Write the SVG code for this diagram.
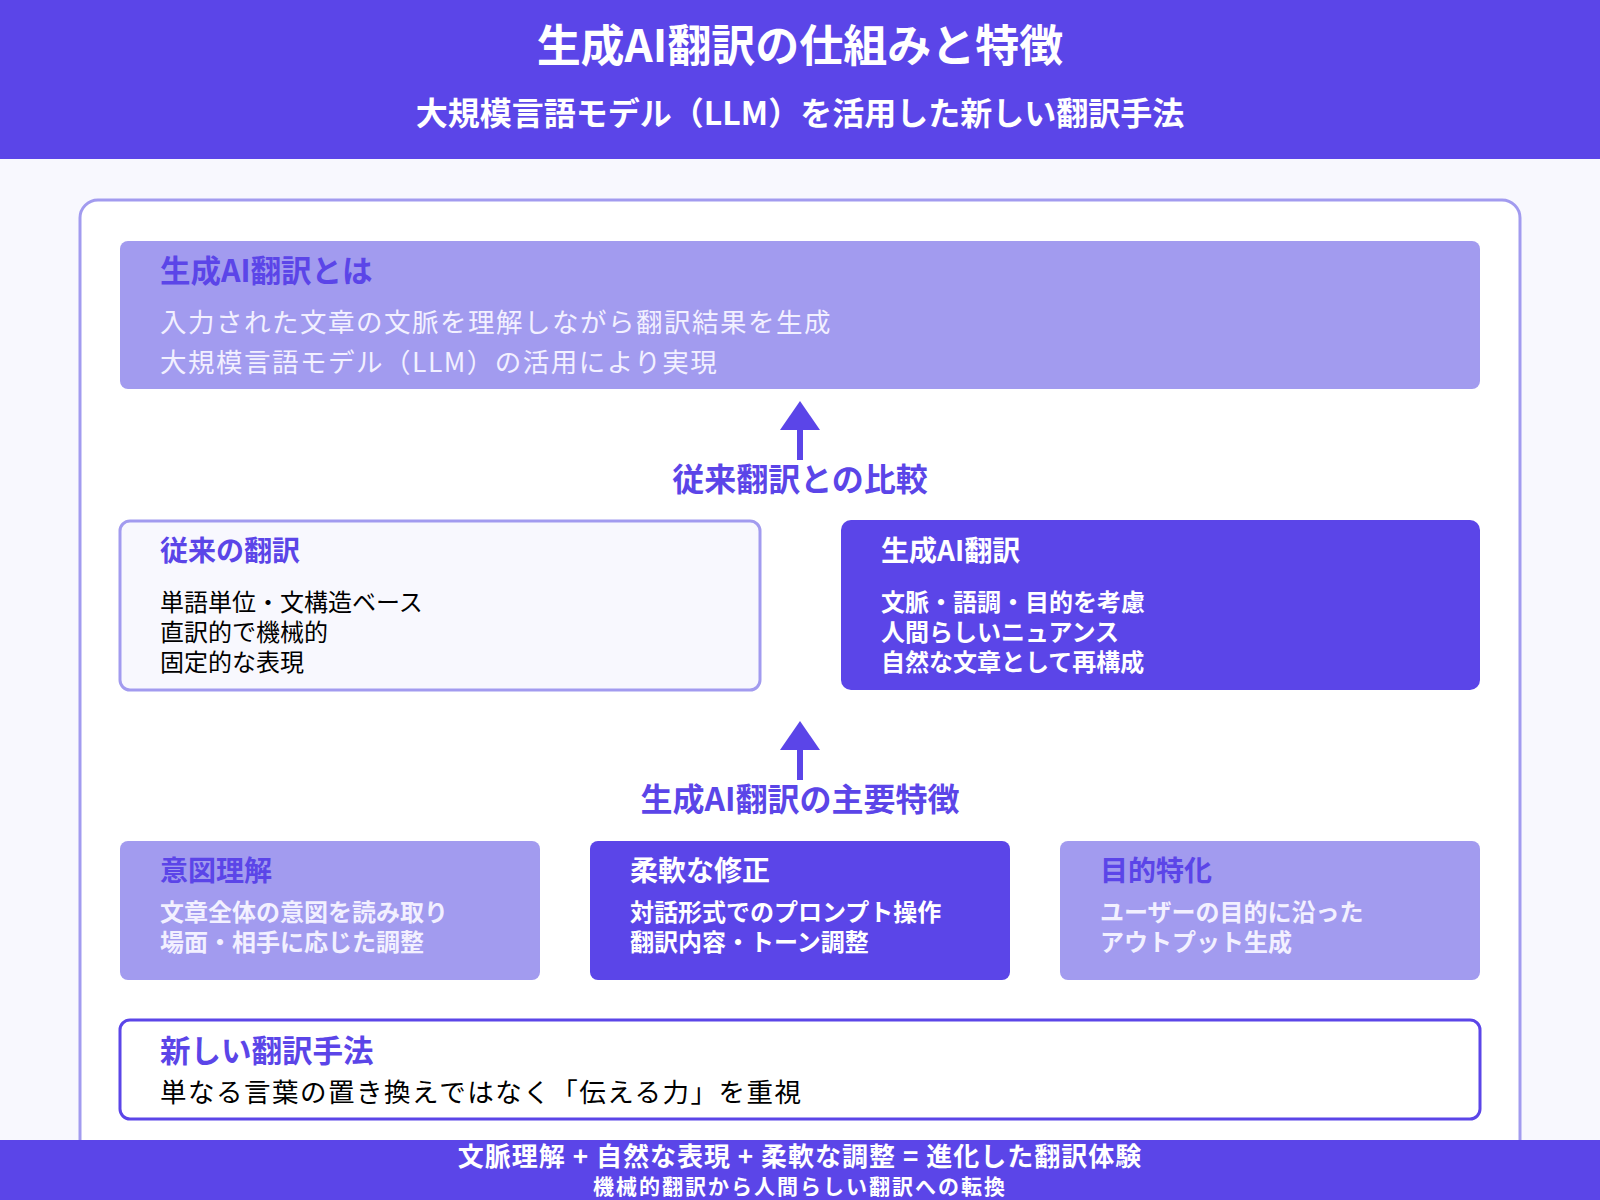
<svg xmlns="http://www.w3.org/2000/svg" width="1600" height="1200" viewBox="0 0 1600 1200">
<style>
text{font-family:"Noto Sans CJK JP","Noto Sans",sans-serif}
.h{font-size:28px;font-weight:700}
.b{font-size:24px}
.bb{font-size:24px;font-weight:700}
.w{fill:#fff}
.p{fill:#5b45e8}
.lt{fill:#f2f0ff}
</style>
<rect width="1600" height="1200" fill="#f8f8fe"/>
<g id="header"><rect width="1600" height="159" fill="#5b45e8"/>
<text x="800" y="62" text-anchor="middle" class="w" font-size="44" font-weight="700">生成AI翻訳の仕組みと特徴</text>
<text x="800" y="125" text-anchor="middle" class="w" font-size="32" font-weight="700">大規模言語モデル（LLM）を活用した新しい翻訳手法</text></g>
<rect x="80" y="200" width="1440" height="1000" rx="18" fill="#fff" stroke="#a29bef" stroke-width="3"/>
<g id="top"><rect x="120" y="241" width="1360" height="148" rx="8" fill="#a29bef"/>
<text x="160" y="282" class="h p" style="font-size:30.5px">生成AI翻訳とは</text>
<text x="160" y="332" class="b lt" style="font-size:26.5px" letter-spacing="1.5">入力された文章の文脈を理解しながら翻訳結果を生成</text>
<text x="160" y="372" class="b lt" style="font-size:26.5px" letter-spacing="1.5">大規模言語モデル（LLM）の活用により実現</text></g>
<g id="connectors" stroke="#5b45e8" stroke-width="6">
<path d="M800,460V426"/><path d="M780,430L800,401L820,430z" fill="#5b45e8" stroke="none"/>
<path d="M800,780V746"/><path d="M780,750L800,721L820,750z" fill="#5b45e8" stroke="none"/></g>
<text x="800" y="491" text-anchor="middle" class="p" font-size="32" font-weight="700">従来翻訳との比較</text>
<g id="trad"><rect x="120" y="521" width="640" height="169" rx="10" fill="#f8f8fe" stroke="#a29bef" stroke-width="3"/>
<text x="160" y="561" class="h p">従来の翻訳</text>
<text x="160" y="611" class="b">単語単位・文構造ベース</text>
<text x="160" y="641" class="b">直訳的で機械的</text>
<text x="160" y="671" class="b">固定的な表現</text></g>
<g id="gen"><rect x="841" y="520" width="639" height="170" rx="10" fill="#5b45e8"/>
<text x="881" y="561" class="h w">生成AI翻訳</text>
<text x="881" y="611" class="bb w">文脈・語調・目的を考慮</text>
<text x="881" y="641" class="bb w">人間らしいニュアンス</text>
<text x="881" y="671" class="bb w">自然な文章として再構成</text></g>
<text x="800" y="811" text-anchor="middle" class="p" font-size="32" font-weight="700">生成AI翻訳の主要特徴</text>
<g id="f1"><rect x="120" y="841" width="420" height="139" rx="8" fill="#a29bef"/>
<text x="160" y="881" class="h p">意図理解</text>
<text x="160" y="921" class="bb lt">文章全体の意図を読み取り</text>
<text x="160" y="951" class="bb lt">場面・相手に応じた調整</text></g>
<g id="f2"><rect x="590" y="841" width="420" height="139" rx="8" fill="#5b45e8"/>
<text x="630" y="881" class="h w">柔軟な修正</text>
<text x="630" y="921" class="bb w">対話形式でのプロンプト操作</text>
<text x="630" y="951" class="bb w">翻訳内容・トーン調整</text></g>
<g id="f3"><rect x="1060" y="841" width="420" height="139" rx="8" fill="#a29bef"/>
<text x="1100" y="881" class="h p">目的特化</text>
<text x="1100" y="921" class="bb lt">ユーザーの目的に沿った</text>
<text x="1100" y="951" class="bb lt">アウトプット生成</text></g>
<g id="new"><rect x="120" y="1020" width="1360" height="99" rx="10" fill="#fff" stroke="#5b45e8" stroke-width="3"/>
<text x="160" y="1062" class="h p" style="font-size:30.5px">新しい翻訳手法</text>
<text x="160" y="1102" class="b" style="font-size:26.5px" letter-spacing="1.5">単なる言葉の置き換えではなく「伝える力」を重視</text></g>
<g id="footer"><rect y="1140" width="1600" height="60" fill="#5b45e8"/>
<text x="800" y="1166" text-anchor="middle" class="w" font-size="26" font-weight="700" letter-spacing="1">文脈理解 + 自然な表現 + 柔軟な調整 = 進化した翻訳体験</text>
<text x="800" y="1194" text-anchor="middle" class="w" font-size="21" font-weight="700" letter-spacing="2">機械的翻訳から人間らしい翻訳への転換</text></g>
</svg>
